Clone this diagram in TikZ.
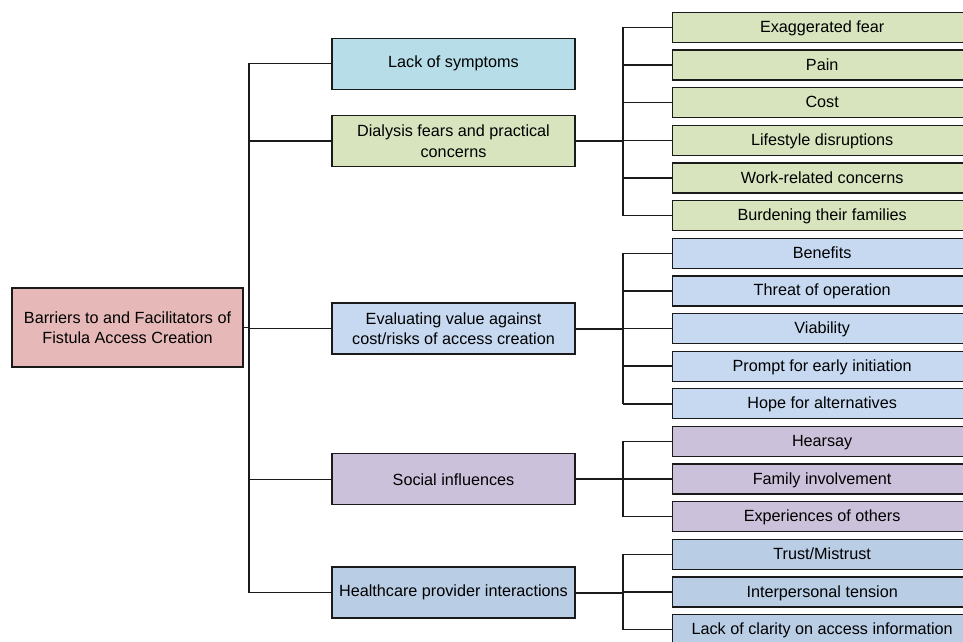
\documentclass[tikz,border=0pt]{standalone}
\usepackage{fontspec}
\setmainfont{Liberation Sans}
\usepackage{tikz}
\usepackage{xcolor}
\usetikzlibrary{positioning}
\definecolor{ink}{HTML}{1A1A1A}
\definecolor{rootbg}{HTML}{E6B9B8}
\definecolor{cyanbg}{HTML}{B7DDE8}
\definecolor{greenbg}{HTML}{D7E4BD}
\definecolor{bluebg}{HTML}{C6D9F1}
\definecolor{purplebg}{HTML}{CCC1DA}
\definecolor{steelbg}{HTML}{B9CDE5}
\tikzset{
  box/.style={draw=ink,line width=1.3pt,inner sep=2pt,align=center,
              font=\fontsize{16.2}{20.5}\selectfont},
  rootbox/.style={box,minimum width=231pt,minimum height=79pt,fill=rootbg},
  topicbox/.style={box,minimum width=243pt,minimum height=51pt},
  leafbox/.style={box,minimum width=299pt,minimum height=30pt,anchor=west,
                  text height=12.6pt,text depth=2.4pt},
  link/.style={draw=ink,line width=1.4pt}
}

\begin{document}
\begin{tikzpicture}[x=1pt,y=-1pt]
  \useasboundingbox (0,0) rectangle (963,641);
  \clip (0,0) rectangle (963,641);
  \fill[white] (0,0) rectangle (963,641);

  \node[rootbox] (root) at (127.5,327.5)
  {Barriers to and Facilitators of\\Fistula Access Creation};

  \node[topicbox,fill=cyanbg]   (lack) at (453.5,63.7)  {Lack of symptoms};
  \node[topicbox,fill=greenbg]  (dial) at (453.5,141)   {Dialysis fears and practical\\concerns};
  \node[topicbox,fill=bluebg]   (eval) at (453.5,328.5) {Evaluating value against\\cost/risks of access creation};
  \node[topicbox,fill=purplebg] (soc)  at (453.5,479.2) {Social influences};
  \node[topicbox,fill=steelbg]  (hcp)  at (453.5,592.5) {Healthcare provider interactions};

  \foreach \fc/\txt [count=\i] in {
      greenbg/Exaggerated fear, greenbg/Pain, greenbg/Cost,
      greenbg/Lifestyle disruptions, greenbg/Work-related concerns,
      greenbg/Burdening their families,
      bluebg/Benefits, bluebg/Threat of operation, bluebg/Viability,
      bluebg/Prompt for early initiation, bluebg/Hope for alternatives,
      purplebg/Hearsay, purplebg/Family involvement, purplebg/Experiences of others,
      steelbg/{Trust/Mistrust}, steelbg/Interpersonal tension,
      steelbg/Lack of clarity on access information}
    \node[leafbox,fill=\fc] (l\i) at (672,{27.3+37.65*(\i-1)}) {\txt};

  \coordinate (trunk) at (249,0);
  \coordinate (brk) at (623,0);

  \draw[link] (root.east) -- (root.east -| trunk);
  \draw[link] (lack.west) -- (lack.west -| trunk) -- (hcp.west -| trunk) -- (hcp.west);
  \foreach \t in {dial,eval,soc}
    \draw[link] (\t.west -| trunk) -- (\t.west);

  \foreach \t/\a/\b in {dial/1/6,eval/7/11,soc/12/14,hcp/15/17} {
    \draw[link,line width=2pt] (\t.east) -- (\t.east -| brk);
    \draw[link] (l\a.west -| brk) -- (l\b.west -| brk);
    \foreach \j in {\a,...,\b}
      \draw[link] (l\j.west -| brk) -- (l\j.west);
  }
\end{tikzpicture}
\end{document}
